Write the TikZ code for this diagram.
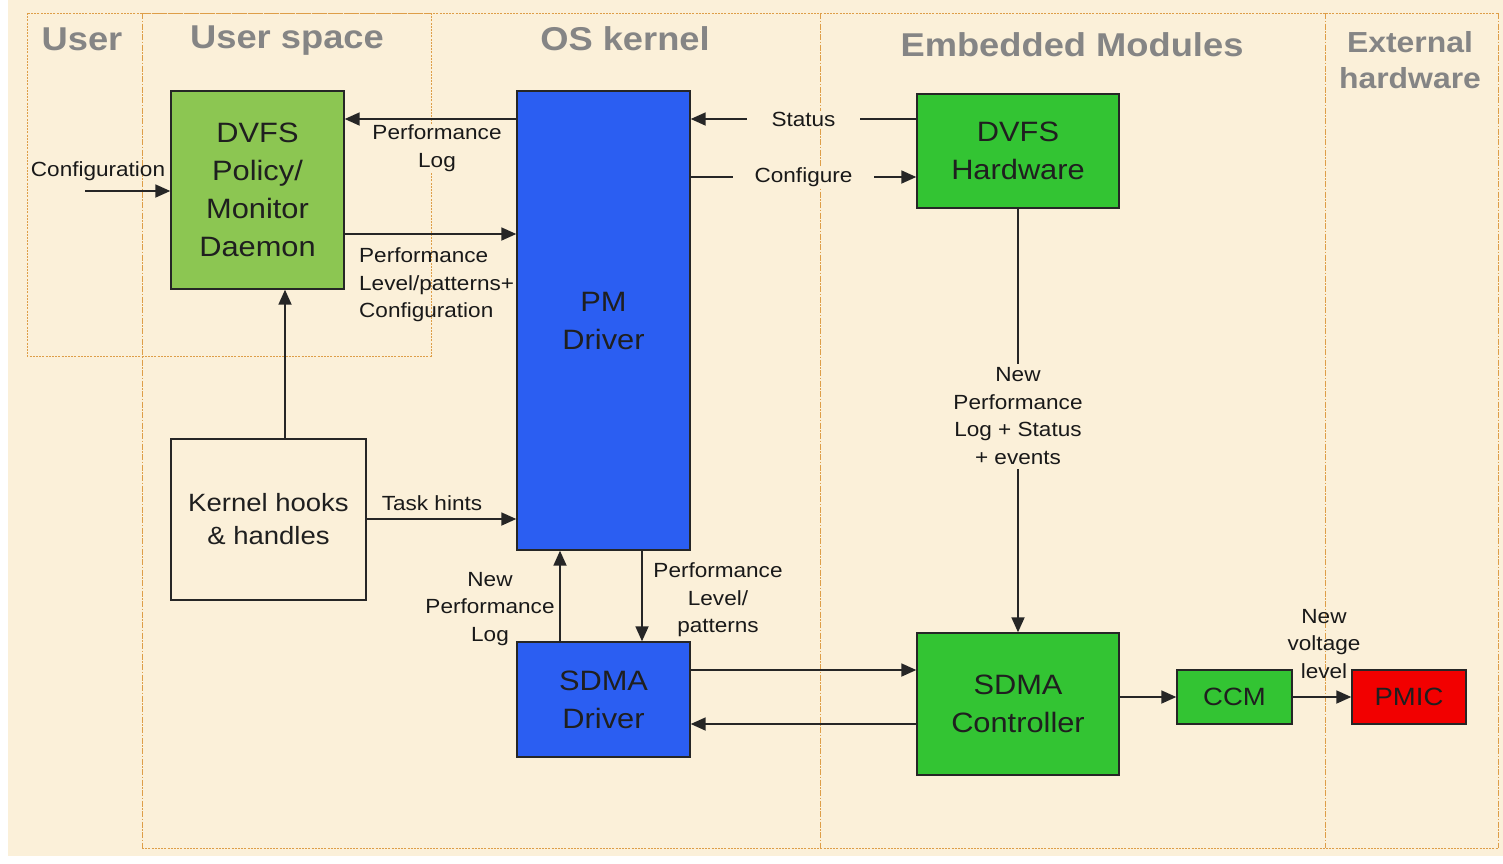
\documentclass[tikz,border=0pt]{standalone}
\usepackage{fontspec}
\setmainfont{Liberation Sans}[FakeStretch=1.1]
\usetikzlibrary{arrows.meta}
\definecolor{paper}{HTML}{FBF0D9}
\definecolor{zonec}{HTML}{DE9E48}
\definecolor{titlegray}{HTML}{858585}
\definecolor{olive}{HTML}{8CC652}
\definecolor{hwgreen}{HTML}{33C433}
\definecolor{drvblue}{HTML}{2B5EF2}
\definecolor{pmicred}{HTML}{F20000}
\begin{document}
\begin{tikzpicture}[x=1pt,y=-1pt,
  box/.style={draw=black!85, line width=1.4pt, inner sep=0pt, align=center,
    text=black!88, font=\fontsize{28}{38}\selectfont},
  smallbox/.style={box, font=\fontsize{25}{33}\selectfont},
  lbl/.style={font=\fontsize{20.5}{27.5}\selectfont, align=center, inner sep=1pt, text=black!90},
  arr/.style={line width=1.8pt, draw=black!85, -{Triangle[length=15pt,width=13pt]}},
  zone/.style={draw=zonec, line width=0.9pt, dash pattern=on 2pt off 1.2pt},
  zonev/.style={draw=zonec, line width=0.9pt, dash pattern=on 6pt off 1.5pt on 1.5pt off 1.5pt},
  title/.style={font=\fontsize{33}{36}\selectfont\bfseries, text=titlegray, align=center}]

% page and paper background
\useasboundingbox (0,0) rectangle (1503,863);
\fill[white] (0,0) rectangle (1503,863);
\fill[paper] (8,0) rectangle (1503,856);

% layer zones
\draw[zone] (27,13) rectangle (431,356);
\draw[zone] (142,13) -- (1498,13);
\draw[zone] (142,848) -- (1498,848);
\draw[zonev] (142,13) -- (142,848);
\draw[zonev] (820,13) -- (820,848);
\draw[zonev] (1325,13) -- (1325,848);
\draw[zonev] (1498,13) -- (1498,848);

% zone titles
\node[title] (tuser) at (82,39) {User};
\node[title] (tuspace) at (287,41) {User space};
\node[title] (tos) at (625,39) {OS kernel};
\node[title] (temb) at (1072,45) {Embedded Modules};
\node[title, font=\fontsize{29}{36}\selectfont\bfseries] (text) at (1410,60) {External\\hardware};

% blocks
\node[box, fill=olive, minimum width=173pt, minimum height=198pt] (pol) at (257.5,190) {DVFS\\Policy/\\Monitor\\Daemon};
\node[box, fill=drvblue, minimum width=173pt, minimum height=459pt] (pm) at (603.5,320.5) {PM\\Driver};
\node[box, fill=hwgreen, minimum width=202pt, minimum height=114pt] (hw) at (1018,151) {DVFS\\Hardware};
\node[smallbox, minimum width=195pt, minimum height=161pt] (hooks) at (268.5,519.5) {Kernel hooks\\\& handles};
\node[box, fill=drvblue, minimum width=173pt, minimum height=115pt] (sdd) at (603.5,699.5) {SDMA\\Driver};
\node[box, fill=hwgreen, minimum width=202pt, minimum height=142pt] (sdc) at (1018,704) {SDMA\\Controller};
\node[smallbox, fill=hwgreen, minimum width=115pt, minimum height=54pt] (ccm) at (1234.5,697) {CCM};
\node[smallbox, fill=pmicred, minimum width=114pt, minimum height=54pt] (pmic) at (1409,697) {PMIC};

% helper positions for connector rows and columns
\coordinate (y119) at (0,119);
\coordinate (y177) at (0,177);
\coordinate (y234) at (0,234);
\coordinate (y519) at (0,519);
\coordinate (y670) at (0,670);
\coordinate (y724) at (0,724);
\coordinate (x285) at (285,0);
\coordinate (x560) at (560,0);
\coordinate (x642) at (642,0);
\coordinate (cfgin) at (85,191);

% connectors
\draw[arr] (cfgin) -- (pol.west |- cfgin);
\node[lbl] (lcfg) at (98,171) {Configuration};

\draw[arr] (pm.west |- y119) -- (pol.east |- y119);
\node[lbl, fill=paper] (lplog) at (437,148) {Performance\\Log};

\draw[arr] (pol.east |- y234) -- (pm.west |- y234);
\node[lbl, align=left, anchor=west] (lplev) at (358,285) {Performance\\Level/patterns+\\Configuration};

\draw[arr] (x285 |- hooks.north) -- (x285 |- pol.south);

\draw[arr] (hooks.east |- y519) -- (pm.west |- y519);
\node[lbl] (ltask) at (432,503) {Task hints};

\draw[arr] (hw.west |- y119) -- node[lbl, fill=paper, inner xsep=25pt] (lstat) {Status} (pm.east |- y119);
\draw[arr] (pm.east |- y177) -- node[lbl, fill=paper, inner xsep=22pt] (lconf) {Configure} (hw.west |- y177);

\draw[arr] (hw.south) -- node[lbl, fill=paper, pos=0.49, inner ysep=4pt] (lnew) {New\\Performance\\Log + Status\\+ events} (sdc.north);

\draw[arr] (x560 |- sdd.north) -- (x560 |- pm.south);
\node[lbl] (lnlog) at (490,609) {New\\Performance\\Log};
\draw[arr] (x642 |- pm.south) -- (x642 |- sdd.north);
\node[lbl] (lslev) at (718,600) {Performance\\Level/\\patterns};

\draw[arr] (sdd.east |- y670) -- (sdc.west |- y670);
\draw[arr] (sdc.west |- y724) -- (sdd.east |- y724);

\draw[arr] (sdc.east |- ccm) -- (ccm.west);
\draw[arr] (ccm.east) -- (pmic.west);
\node[lbl] (lvolt) at (1324,644) {New\\voltage\\level};

\end{tikzpicture}
\end{document}
